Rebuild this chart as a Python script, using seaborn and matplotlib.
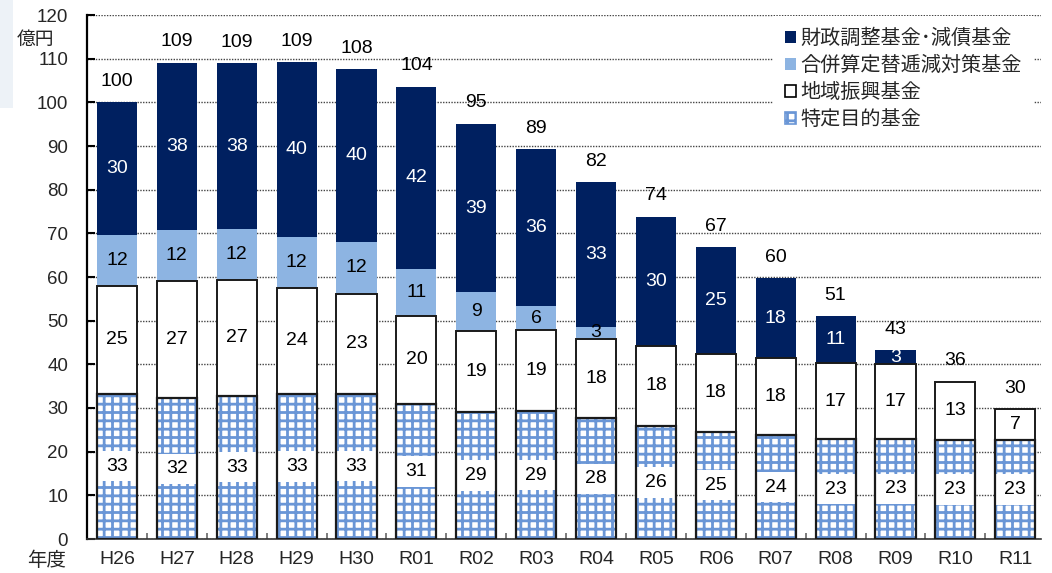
import numpy as np
import matplotlib
matplotlib.use("Agg")
import matplotlib.pyplot as plt
import seaborn as sns
from matplotlib.patches import Patch, Rectangle
from matplotlib.ticker import MultipleLocator, FixedLocator

# 年度別の基金残高（億円）
years = ["H26", "H27", "H28", "H29", "H30", "R01", "R02", "R03",
         "R04", "R05", "R06", "R07", "R08", "R09", "R10", "R11"]
tokutei = [33.3, 32.2, 32.8, 33.2, 33.3, 30.9, 29.1, 29.2,
           27.6, 25.9, 24.6, 23.8, 22.9, 23.0, 22.7, 22.7]      # 特定目的基金
chiiki = [24.6, 26.9, 26.6, 24.3, 22.9, 20.2, 18.6, 18.6,
          18.3, 18.3, 17.7, 17.6, 17.3, 17.0, 13.3, 7.0]        # 地域振興基金
gappei = [11.8, 11.6, 11.7, 11.7, 11.8, 10.8, 8.8, 5.6,
          2.7, 0, 0, 0, 0, 0, 0, 0]                             # 合併算定替逓減対策基金
zaisei = [30.3, 38.4, 37.8, 40.0, 39.6, 41.7, 38.6, 35.9,
          33.1, 29.6, 24.6, 18.3, 10.8, 3.2, 0, 0]              # 財政調整基金・減債基金

series_names = ["財政調整基金･減債基金", "合併算定替逓減対策基金", "地域振興基金", "特定目的基金"]

NAVY = "#002060"
LIGHT = "#8DB4E2"
HATCH = "#6A96D6"

sns.set_style("white")
plt.rcParams["font.family"] = ["Liberation Sans", "Noto Sans CJK JP"]
plt.rcParams["hatch.linewidth"] = 2.0

fig = plt.figure(figsize=(10.52, 5.73), dpi=100)
ax = fig.add_axes([87 / 1052, 1 - 539 / 573, (1041 - 87) / 1052, (539 - 15) / 573])

# light panel strip at the left edge
fig.patches.append(Rectangle((0, 1 - 108 / 573), 13 / 1052, 108 / 573,
                             transform=fig.transFigure, facecolor="#EDF2F7",
                             edgecolor="none", zorder=0))

t = np.array(tokutei)
c = np.array(chiiki)
g = np.array(gappei)
z = np.array(zaisei)
cum1 = t
cum2 = t + c
cum3 = cum2 + g
cum4 = cum3 + z

W = 0.67
sns.barplot(x=years, y=cum4, color=NAVY, saturation=1, width=W,
            linewidth=0, ax=ax, zorder=2)
sns.barplot(x=years, y=cum3, color=LIGHT, saturation=1, width=W,
            linewidth=0, ax=ax, zorder=2)
sns.barplot(x=years, y=cum2, color="white", saturation=1, width=W,
            edgecolor="#1a1a1a", linewidth=1.4, ax=ax, zorder=2)
sns.barplot(x=years, y=cum1, color="white", saturation=1, width=W,
            edgecolor=HATCH, hatch="++", linewidth=0, ax=ax, zorder=2)
sns.barplot(x=years, y=cum1, color="#1a1a1a", fill=False, width=W,
            linewidth=1.6, ax=ax, zorder=4)

fs = 14
for i in range(len(years)):
    # 特定目的基金: label on a white box
    if t[i] > 0:
        yc = t[i] / 2
        ax.add_patch(Rectangle((i - 0.318, yc - 3.45), 0.636, 6.9,
                               facecolor="white", edgecolor="none", zorder=3))
        ax.text(i, yc, f"{t[i]:.0f}", ha="center", va="center",
                fontsize=fs, color="black", zorder=5)
    if c[i] > 0:
        ax.text(i, cum1[i] + c[i] / 2, f"{c[i]:.0f}", ha="center", va="center",
                fontsize=fs, color="black", zorder=5)
    if g[i] > 0:
        ax.text(i, cum2[i] + g[i] / 2, f"{g[i]:.0f}", ha="center", va="center",
                fontsize=fs, color="black", zorder=5)
    if z[i] > 0:
        ax.text(i, cum3[i] + z[i] / 2, f"{z[i]:.0f}", ha="center", va="center",
                fontsize=fs, color="white", zorder=5)
    ax.annotate(f"{cum4[i]:.0f}", (i, cum4[i]), xytext=(0, 15),
                textcoords="offset points", ha="center", va="center",
                fontsize=fs, color="black", zorder=5)

ax.set_ylim(0, 120)
ax.set_xlim(-0.5, 15.43)
ax.yaxis.set_major_locator(MultipleLocator(10))
ax.yaxis.grid(True, linestyle=(0, (1, 1)), color="#444444", linewidth=1.0)
ax.xaxis.grid(False)
ax.set_axisbelow(True)

for s in ["top", "right"]:
    ax.spines[s].set_visible(False)
ax.spines["left"].set_color("black")
ax.spines["left"].set_linewidth(1.6)
ax.spines["bottom"].set_color("#333333")
ax.spines["bottom"].set_linewidth(1.2)

ax.tick_params(axis="y", direction="in", length=6, width=1.5, color="black",
               labelsize=13.5, pad=13.5, left=True)
ax.tick_params(axis="x", which="major", length=0, labelsize=14, pad=9)
ax.xaxis.set_minor_locator(FixedLocator(np.arange(0.5, 15.5, 1.0)))
ax.tick_params(axis="x", which="minor", direction="in", length=4.5,
               width=1.2, color="#666666", bottom=True)
ax.set_xlabel("")
ax.set_ylabel("")

fig.text(35 / 1052, 1 - 39 / 573, "億円", ha="center", va="center",
         fontsize=13.5, family=["Noto Sans CJK JP"])
fig.text(47 / 1052, 1 - 561 / 573, "年度", ha="center", va="center",
         fontsize=14, family=["Noto Sans CJK JP"])

handles = [
    Patch(facecolor=NAVY, edgecolor="none"),
    Patch(facecolor=LIGHT, edgecolor="none"),
    Patch(facecolor="white", edgecolor="black", linewidth=1.2),
    Patch(facecolor="white", edgecolor=HATCH, hatch="++", linewidth=1.2),
]
leg = ax.legend(handles, series_names, loc="upper right",
                bbox_to_anchor=(1034 / 1052, 1 - 16 / 573),
                bbox_transform=fig.transFigure,
                prop={"family": ["Noto Sans CJK JP"], "size": 14.5},
                frameon=True, fancybox=False, framealpha=1,
                facecolor="white", edgecolor="none",
                borderpad=0.6, borderaxespad=0, labelspacing=0.3,
                handlelength=0.5, handleheight=0.5, handletextpad=0.25)
leg.set_zorder(6)

fig.savefig("out.png", dpi=100)
